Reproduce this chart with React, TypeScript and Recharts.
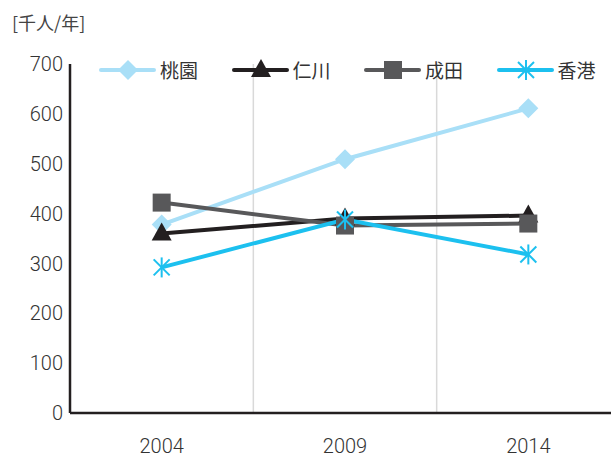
import React from 'react';
import { LineChart, Line, XAxis, YAxis, CartesianGrid } from 'recharts';

const years = ['2004', '2009', '2014'];
const taoyuan = [378, 509, 611];
const incheon = [360, 390, 396];
const narita = [422, 376, 380];
const hongkong = [292, 388, 318];
const yTicks = [0, 100, 200, 300, 400, 500, 600, 700];

const CJK = '"Noto Sans CJK JP", "Noto Sans", sans-serif';
const NUM = 'Roboto, "Noto Sans", sans-serif';
const TEXT = '#333333';

const data = years.map((year, i) => ({
  year,
  taoyuan: taoyuan[i],
  incheon: incheon[i],
  narita: narita[i],
  hongkong: hongkong[i],
}));

const Diamond = ({ cx, cy, fill }: any) => (
  <polygon points={`${cx},${cy - 10} ${cx + 10},${cy} ${cx},${cy + 10} ${cx - 10},${cy}`} fill={fill} />
);
const Triangle = ({ cx, cy, fill }: any) => (
  <polygon points={`${cx},${cy - 11} ${cx + 10},${cy + 7} ${cx - 10},${cy + 7}`} fill={fill} />
);
const Square = ({ cx, cy, fill }: any) => (
  <rect x={cx - 9} y={cy - 9} width={18} height={18} fill={fill} />
);
const Star = ({ cx, cy, stroke }: any) => (
  <g stroke={stroke} strokeWidth={2}>
    <line x1={cx} y1={cy - 10} x2={cx} y2={cy + 10} />
    <line x1={cx - 8} y1={cy - 8} x2={cx + 8} y2={cy + 8} />
    <line x1={cx - 8} y1={cy + 8} x2={cx + 8} y2={cy - 8} />
  </g>
);

const series = [
  { key: 'taoyuan', name: '桃園', color: '#a9dff7', Marker: Diamond },
  { key: 'incheon', name: '仁川', color: '#231f20', Marker: Triangle },
  { key: 'narita', name: '成田', color: '#58585a', Marker: Square },
  { key: 'hongkong', name: '香港', color: '#1cc0ef', Marker: Star },
];

const LegendBar = () => (
  <div
    style={{
      position: 'absolute', left: 98, top: 56, width: 540, display: 'flex', whiteSpace: 'nowrap',
      fontFamily: CJK, fontSize: 19, color: TEXT,
    }}
  >
    {series.map(({ key, name, color, Marker }) => (
      <div key={key} style={{ display: 'flex', alignItems: 'center', width: 132.5, flexShrink: 0 }}>
        <svg width={59} height={24}>
          <line x1={3} y1={12} x2={56} y2={12} stroke={color} strokeWidth={4} strokeLinecap="round" />
          <Marker cx={30} cy={12} fill={color} stroke={color} />
        </svg>
        <span style={{ marginLeft: 3 }}>{name}</span>
      </div>
    ))}
  </div>
);

const tickStyle = { fill: TEXT, fontSize: 20, fontFamily: NUM, fontWeight: 300 };

export default function App() {
  return (
    <div style={{ position: 'fixed', left: 0, top: 0, width: 611, height: 457, overflow: 'hidden', background: '#fff' }}>
      <div style={{ position: 'absolute', left: 12, top: 9, fontFamily: CJK, fontSize: 18, color: '#444' }}>[千人/年]</div>
      <LineChart width={620} height={457} data={data} margin={{ top: 64, right: 0, bottom: 0, left: 0 }}>
        <CartesianGrid
          horizontal={false}
          stroke="#d9d9d9"
          strokeWidth={1.5}
          verticalCoordinatesGenerator={({ offset }: any) =>
            [1, 2].map((i) => offset.left + (offset.width * i) / years.length)
          }
        />
        <XAxis
          dataKey="year"
          scale="band"
          height={44}
          axisLine={{ stroke: '#231f20', strokeWidth: 2.5 }}
          tickLine={false}
          tickSize={6}
          tickMargin={20}
          tick={tickStyle}
        />
        <YAxis
          width={70}
          domain={[0, 700]}
          ticks={yTicks}
          axisLine={{ stroke: '#231f20', strokeWidth: 2.5 }}
          tickLine={false}
          tickSize={6}
          tickMargin={1}
          tick={tickStyle}
        />
        {series.map(({ key, name, color, Marker }) => (
          <Line
            key={key}
            dataKey={key}
            name={name}
            stroke={color}
            strokeWidth={4}
            type="linear"
            isAnimationActive={false}
            dot={(p: any) => <Marker key={`${key}-${p.index}`} cx={p.cx} cy={p.cy} fill={color} stroke={color} />}
            activeDot={false}
          />
        ))}
      </LineChart>
      <LegendBar />
    </div>
  );
}
